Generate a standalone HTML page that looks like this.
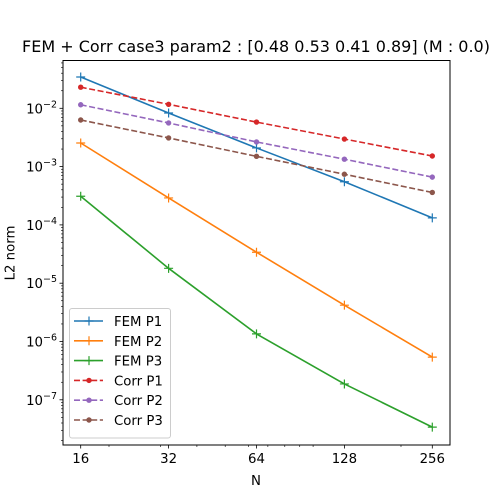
<!DOCTYPE html>
<html><head><meta charset="utf-8"><style>
body{margin:0;background:#fff}
svg{display:block;font-family:"DejaVu Sans","Liberation Sans",sans-serif}
</style></head><body>
<svg id="chart" width="500" height="500" xmlns="http://www.w3.org/2000/svg">
<rect width="500" height="500" fill="#fff"/>
<text x="256" y="52" font-size="16" text-anchor="middle">FEM + Corr case3 param2 : [0.48 0.53 0.41 0.89] (M : 0.0)</text>
<g id="plot"></g>
<text x="256" y="485" font-size="13.3" text-anchor="middle">N</text>
<text transform="translate(11,253) rotate(-90)" font-size="13.3" text-anchor="middle" dominant-baseline="central">L2 norm</text>
</svg>
<script>
const categories = [16, 32, 64, 128, 256];
const femP1 = [3.44e-2, 8.3e-3, 2.09e-3, 5.5e-4, 1.32e-4];
const femP2 = [2.54e-3, 2.9e-4, 3.4e-5, 4.2e-6, 5.4e-7];
const femP3 = [3.1e-4, 1.8e-5, 1.35e-6, 1.87e-7, 3.4e-8];
const corrP1 = [2.3e-2, 1.17e-2, 5.8e-3, 2.97e-3, 1.52e-3];
const corrP2 = [1.15e-2, 5.6e-3, 2.65e-3, 1.34e-3, 6.6e-4];
const corrP3 = [6.3e-3, 3.1e-3, 1.5e-3, 7.4e-4, 3.6e-4];
const seriesNames = ["FEM P1","FEM P2","FEM P3","Corr P1","Corr P2","Corr P3"];
const xTickLabels = ["16","32","64","128","256"];
const yTickExps = [-2,-3,-4,-5,-6,-7];

const NS = "http://www.w3.org/2000/svg";
const L = 63, R = 450, T = 60.5, B = 445;
function xs(v){ return 80.7 + 87.9 * Math.log2(v/16); }
function ys(v){ return 108.3 - 58.3 * (Math.log10(v) + 2); }
const g = document.getElementById('plot');
function mk(tag, attrs, parent){ const e=document.createElementNS(NS,tag); for(const k in attrs) e.setAttribute(k,attrs[k]); (parent||g).appendChild(e); return e; }

const frame = mk('rect',{x:L,y:T,width:R-L,height:B-T,fill:'none',stroke:'#000','stroke-width':1});



categories.forEach((c,i)=>{
  const x=xs(c);
  const t=mk('line',{x1:x,x2:x,y1:B,y2:B+3.5,stroke:'#000','stroke-width':0.8});
  
  
  const lb=mk('text',{x:x,y:B+18,'font-size':13.3,'text-anchor':'middle'});
  lb.textContent=xTickLabels[i];
  
  
});
[20,30,40,50,60,70,80,90,100,200].forEach(v=>{
  const x=xs(v);
  const t=mk('line',{x1:x,x2:x,y1:B,y2:B+2,stroke:'#000','stroke-width':0.6});
  
  
});
yTickExps.forEach(e=>{
  const y=ys(Math.pow(10,e));
  const t=mk('line',{x1:L-3.5,x2:L,y1:y,y2:y,stroke:'#000','stroke-width':0.8});
  
  
  const lb=mk('text',{x:L-6,y:y+5,'font-size':13.3,'text-anchor':'end'});
  
  
  const s1=document.createElementNS(NS,'tspan'); s1.textContent='10'; lb.appendChild(s1);
  const s2=document.createElementNS(NS,'tspan'); s2.setAttribute('dy','-6'); s2.setAttribute('font-size','9.5'); s2.textContent='\u2212'+(-e); lb.appendChild(s2);
});
for(let e=-8;e<=-1;e++){
  for(let m=2;m<=9;m++){
    const y=ys(m*Math.pow(10,e));
    if(y<T||y>B) continue;
    const t=mk('line',{x1:L-2,x2:L,y1:y,y2:y,stroke:'#000','stroke-width':0.6});
    
    
  }
}

const allSeries=[femP1,femP2,femP3,corrP1,corrP2,corrP3];
const colors=['#1f77b4','#ff7f0e','#2ca02c','#d62728','#9467bd','#8c564b'];
function marker(x,y,i,parent){
  if(i<3){
    mk('path',{d:`M${x-4.5},${y}H${x+4.5}M${x},${y-4.5}V${y+4.5}`,stroke:colors[i],'stroke-width':1.2},parent);
  } else {
    mk('circle',{cx:x,cy:y,r:2.7,fill:colors[i]},parent);
  }
}
allSeries.forEach((s,i)=>{
  const grp=mk('g',{});
  
  
  const pts=s.map((v,j)=>xs(categories[j])+','+ys(v)).join(' ');
  const pl=mk('polyline',{points:pts,fill:'none',stroke:colors[i],'stroke-width':1.6},grp);
  if(i>=3) pl.setAttribute('stroke-dasharray','6,2.6');
  s.forEach((v,j)=>marker(xs(categories[j]),ys(v),i,grp));
});

const lg=mk('g',{});


mk('rect',{x:69.5,y:308.5,width:101,height:129.5,rx:2.5,fill:'#fff','fill-opacity':0.8,stroke:'#ccc','stroke-width':1},lg);
seriesNames.forEach((n,i)=>{
  const y=321+19.8*i;
  const e=mk('g',{},lg);
  
  
  const ln=mk('line',{x1:74,x2:103,y1:y,y2:y,stroke:colors[i],'stroke-width':1.6},e);
  if(i>=3) ln.setAttribute('stroke-dasharray','6,2.6');
  marker(89,y,i,e);
  const t=mk('text',{x:114,y:y+5,'font-size':13.3},e);
  t.textContent=n;
});
</script>
</body></html>
